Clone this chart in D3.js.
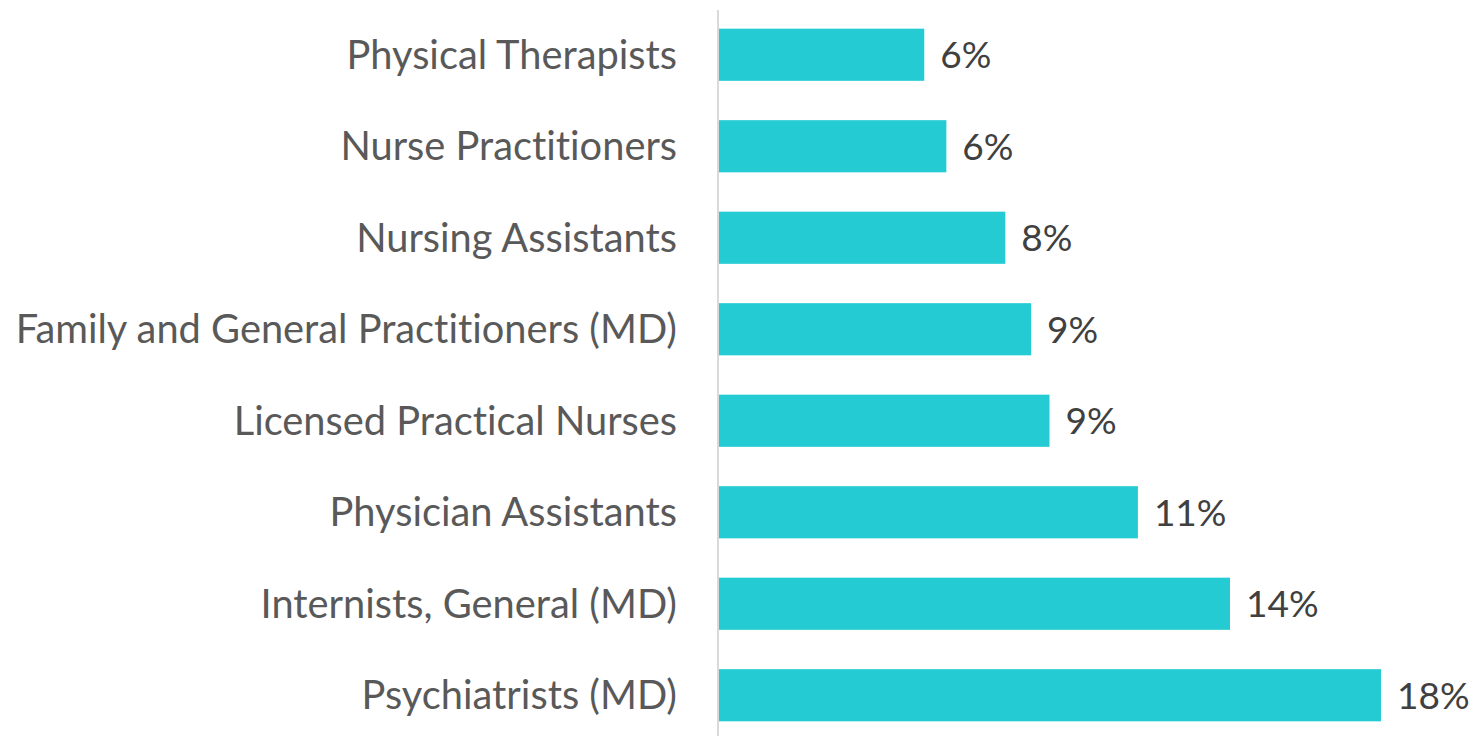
<!DOCTYPE html>
<html><head><meta charset="utf-8">
<script src="https://cdn.jsdelivr.net/npm/d3@7"></script>
<style>html,body{margin:0;padding:0;background:#fff;}svg{display:block;}text{font-variant-ligatures:none;font-feature-settings:"liga" 0, "dlig" 0;}</style>
</head><body>
<svg id="chart" width="1478" height="736"></svg>
<script>
const categories = ["Physical Therapists","Nurse Practitioners","Nursing Assistants","Family and General Practitioners (MD)","Licensed Practical Nurses","Physician Assistants","Internists, General (MD)","Psychiatrists (MD)"];
const values = [5.6, 6.2, 7.8, 8.5, 9.0, 11.4, 13.9, 18.0];
const valueLabels = ["6%","6%","8%","9%","9%","11%","14%","18%"];

const svg = d3.select("#chart");
const font = "Lato, 'Open Sans', sans-serif";
const x = d3.scaleLinear().domain([0, 18.0]).range([718, 1381]);
const y = d3.scaleBand().domain(categories).range([9, 741]).paddingInner(0.43).paddingOuter(0.215);

svg.selectAll("rect.bar").data(categories).join("rect")
  .attr("class","bar")
  .attr("x", x(0))
  .attr("y", d => y(d))
  .attr("width", (d,i) => x(values[i]) - x(0))
  .attr("height", y.bandwidth())
  .attr("fill", "#25CBD3");

const yAxis = d3.axisLeft(y).tickSize(0).tickPadding(41);
const g = svg.append("g").attr("transform", `translate(${x(0)},0)`).call(yAxis);
g.select(".domain").attr("stroke","#d9d9d9").attr("stroke-width",2).attr("d","M0,10V736");
g.selectAll(".tick text").attr("font-family", font).attr("font-size", 39.8).attr("fill","#595959").attr("dy","0.35em");

svg.selectAll("text.val").data(categories).join("text")
  .attr("class","val")
  .attr("x", (d,i) => x(values[i]) + 16)
  .attr("y", d => y(d) + y.bandwidth()/2)
  .attr("dy","0.36em")
  .attr("font-family", font).attr("font-size", 37).attr("fill","#404040")
  .text((d,i) => valueLabels[i]);
</script>
</body></html>
